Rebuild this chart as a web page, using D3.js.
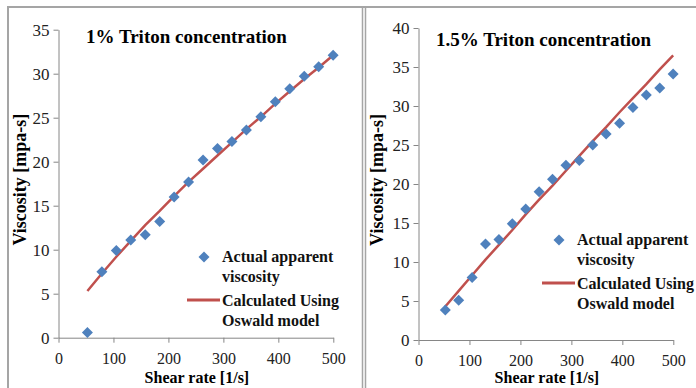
<!DOCTYPE html>
<html>
<head>
<meta charset="utf-8">
<script src="https://cdn.jsdelivr.net/npm/d3@7"></script>
<style>
  body { margin: 0; background: #fff; }
</style>
</head>
<body>
<div id="chart"></div>
<script>

// shear rates used in both tests [1/s]
var shearRate = [52.6, 78.9, 105.2, 131.5, 157.8, 184.1, 210.4, 236.7, 263.0,
                 289.3, 315.6, 341.9, 368.2, 394.5, 420.8, 447.1, 473.4, 499.7];

// 1% triton: measured and model viscosity [mpa-s]
var actual1 = [0.6, 7.5, 9.9, 11.1, 11.7, 13.2, 16.0, 17.7, 20.2,
               21.5, 22.3, 23.6, 25.1, 26.8, 28.3, 29.7, 30.8, 32.1];
var calc1 = [5.3, 7.3, 9.2, 11.0, 12.8, 14.4, 16.1, 17.7, 19.2,
             20.7, 22.2, 23.7, 25.1, 26.6, 28.0, 29.4, 30.7, 32.1];

// 1.5% triton
var actual15 = [3.85, 5.1, 8.0, 12.3, 12.9, 14.9, 16.8, 19.0, 20.6,
                22.4, 23.0, 25.0, 26.4, 27.8, 29.8, 31.4, 32.3, 34.1];
var calc15 = [4.3, 6.3, 8.3, 10.3, 12.2, 14.1, 16.1, 18.0, 19.8,
              21.7, 23.6, 25.5, 27.3, 29.2, 31.0, 32.8, 34.7, 36.5];

var xTicks = [0, 100, 200, 300, 400, 500];
var yTicks1 = [0, 5, 10, 15, 20, 25, 30, 35];
var yTicks15 = [0, 5, 10, 15, 20, 25, 30, 35, 40];

var titles = ["1% Triton concentration", "1.5% Triton concentration"];
var legendLabels = [["Actual apparent", "viscosity"], ["Calculated Using", "Oswald model"]];
var xLabel = "Shear rate [1/s]";
var yLabel = "Viscosity [mpa-s]";

var width = 696, height = 388;
var blue = "#4F81BD", red = "#C0504D", frameColor = "#a5a5a5", axisColor = "#868686";
var serif = "'Liberation Serif', 'Times New Roman', serif";

var svg = d3.select("#chart").append("svg")
    .attr("width", width)
    .attr("height", height)
    .style("display", "block");

// frames of the two pasted panels
svg.append("line").attr("x1", 7).attr("x2", width).attr("y1", 7).attr("y2", 7)
    .attr("stroke", frameColor).attr("stroke-width", 2);
svg.append("line").attr("x1", 8).attr("x2", 8).attr("y1", 7).attr("y2", height)
    .attr("stroke", frameColor).attr("stroke-width", 2);
svg.append("line").attr("x1", 362.5).attr("x2", 362.5).attr("y1", 7).attr("y2", height)
    .attr("stroke", frameColor).attr("stroke-width", 1.5);
svg.append("line").attr("x1", 365.5).attr("x2", 365.5).attr("y1", 7).attr("y2", height)
    .attr("stroke", frameColor).attr("stroke-width", 1.5);

var diamond = "M0,-5.5L5.5,0L0,5.5L-5.5,0Z";

function drawPanel(p) {
    var g = svg.append("g");

    var xScale = d3.scaleLinear().domain([0, 500]).range([p.left, p.right]);
    var yScale = d3.scaleLinear().domain([0, p.yMax]).range([p.bottom, p.top]);

    var xAxis = d3.axisBottom(xScale).tickValues(xTicks).tickSize(5).tickSizeOuter(0).tickPadding(6);
    var yAxis = d3.axisLeft(yScale).tickValues(p.yTicks).tickSize(5).tickSizeOuter(0).tickPadding(4);

    var xg = g.append("g")
        .attr("transform", "translate(0," + p.bottom + ")")
        .call(xAxis);
    xg.selectAll("text").attr("dy", "0.95em");
    var yg = g.append("g")
        .attr("transform", "translate(" + p.left + ",0)")
        .call(yAxis);

    xg.selectAll("text").style("font-size", "16px");
    yg.selectAll("text").style("font-size", "17px");
    [xg, yg].forEach(function(a) {
        a.selectAll("path, line").attr("stroke", axisColor);
        a.selectAll("text")
            .style("font-family", serif)
            .attr("fill", "#222");
    });

    var line = d3.line()
        .x(function(d, i) { return xScale(shearRate[i]); })
        .y(function(d) { return yScale(d); });

    g.append("path")
        .datum(p.calc)
        .attr("d", line)
        .attr("fill", "none")
        .attr("stroke", red)
        .attr("stroke-width", 2.5);

    g.selectAll(".pt").data(p.actual).enter()
        .append("path")
        .attr("class", "pt")
        .attr("d", diamond)
        .attr("fill", blue)
        .attr("transform", function(d, i) {
            return "translate(" + xScale(shearRate[i]) + "," + yScale(d) + ")";
        });

    // title
    g.append("text")
        .attr("x", p.titleX).attr("y", p.titleY)
        .style("font-family", serif)
        .style("font-size", "19px").style("font-weight", "bold")
        .text(p.title);

    // axis titles
    g.append("text")
        .attr("x", (p.left + p.right) / 2 + 1).attr("y", 383)
        .attr("text-anchor", "middle")
        .style("font-family", serif)
        .style("font-size", "16px").style("font-weight", "bold")
        .text(xLabel);
    g.append("text")
        .attr("transform", "translate(" + p.yLabelX + "," + ((p.top + p.bottom) / 2 - 4) + ") rotate(-90)")
        .attr("text-anchor", "middle")
        .style("font-family", serif)
        .style("font-size", "18px").style("font-weight", "bold")
        .text(yLabel);

    // legend
    var lg = g.append("g").attr("transform", "translate(" + p.legX + "," + p.legY + ")");
    lg.append("path").attr("d", diamond).attr("fill", blue)
        .attr("transform", "translate(-18,-5)");
    lg.append("line").attr("x1", -35).attr("x2", -2).attr("y1", 38).attr("y2", 38)
        .attr("stroke", red).attr("stroke-width", 3);
    var rows = [legendLabels[0][0], legendLabels[0][1], legendLabels[1][0], legendLabels[1][1]];
    var rowY = [0, 20, 44, 64];
    lg.selectAll("text").data(rows).enter()
        .append("text")
        .attr("x", 0)
        .attr("y", function(d, i) { return rowY[i]; })
        .style("font-family", serif)
        .style("font-size", "16px").style("font-weight", "bold")
        .attr("fill", "#111")
        .text(function(d) { return d; });
}

drawPanel({
    left: 58.5, right: 333.3, top: 29.7, bottom: 337.7, yMax: 35, yTicks: yTicks1,
    actual: actual1, calc: calc1, title: titles[0], titleX: 86, titleY: 43,
    yLabelX: 26, legX: 222, legY: 262
});
drawPanel({
    left: 418.5, right: 673.3, top: 28, bottom: 340, yMax: 40, yTicks: yTicks15,
    actual: actual15, calc: calc15, title: titles[1], titleX: 436, titleY: 45.5,
    yLabelX: 383, legX: 577, legY: 245
});

</script>
</body>
</html>
